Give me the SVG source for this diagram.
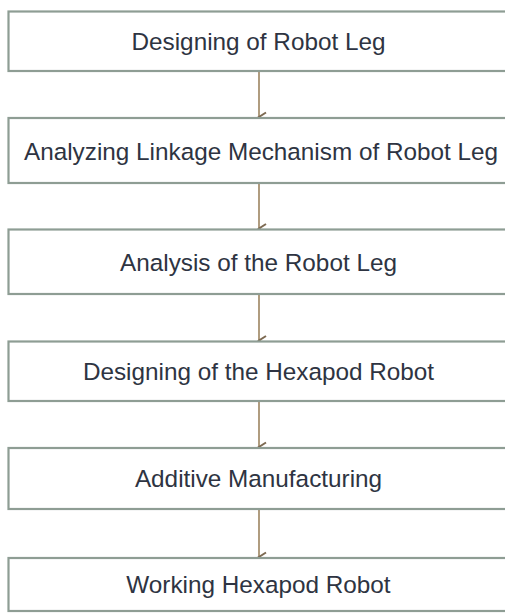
<svg xmlns="http://www.w3.org/2000/svg" width="505" height="613" viewBox="0 0 505 613">
  <defs>
    <marker id="arrow" markerWidth="14" markerHeight="14" refX="7" refY="11" orient="auto" markerUnits="userSpaceOnUse" viewBox="0 0 14 14">
      <path d="M2.5,4 L7,11 L11.5,4" fill="none" stroke="#7d6a52" stroke-width="2" stroke-linejoin="miter"/>
    </marker>
    <style>
      .box { fill: #ffffff; stroke: #8e9d94; stroke-width: 2.2; }
      .label { font-family: "Liberation Sans", Arial, sans-serif; font-size: 24.3px; fill: #2e3442; text-anchor: middle; }
      .link { stroke: #a89272; stroke-width: 1.8; fill: none; marker-end: url(#arrow); }
    </style>
  </defs>
  <rect width="505" height="613" fill="#ffffff"/>

  <g id="connectors">
    <line class="link" x1="259" y1="72" x2="259" y2="117"/>
    <line class="link" x1="259" y1="184" x2="259" y2="228.5"/>
    <line class="link" x1="259" y1="295" x2="259" y2="340.5"/>
    <line class="link" x1="259" y1="402" x2="259" y2="447"/>
    <line class="link" x1="259" y1="510" x2="259" y2="557"/>
  </g>

  <g id="node-1">
    <rect class="box" x="8.5" y="11.5" width="510" height="59.5"/>
    <text class="label" x="258.5" y="50">Designing of Robot Leg</text>
  </g>
  <g id="node-2">
    <rect class="box" x="8.5" y="118" width="510" height="65"/>
    <text class="label" x="261" y="159.5">Analyzing Linkage Mechanism of Robot Leg</text>
  </g>
  <g id="node-3">
    <rect class="box" x="8.5" y="229.5" width="510" height="64.5"/>
    <text class="label" x="258.5" y="271">Analysis of the Robot Leg</text>
  </g>
  <g id="node-4">
    <rect class="box" x="8.5" y="341.5" width="510" height="59.5"/>
    <text class="label" x="258.5" y="380">Designing of the Hexapod Robot</text>
  </g>
  <g id="node-5">
    <rect class="box" x="8.5" y="448" width="510" height="61"/>
    <text class="label" x="258.5" y="487">Additive Manufacturing</text>
  </g>
  <g id="node-6">
    <rect class="box" x="8.5" y="558" width="510" height="53"/>
    <text class="label" x="258.5" y="593">Working Hexapod Robot</text>
  </g>
</svg>
